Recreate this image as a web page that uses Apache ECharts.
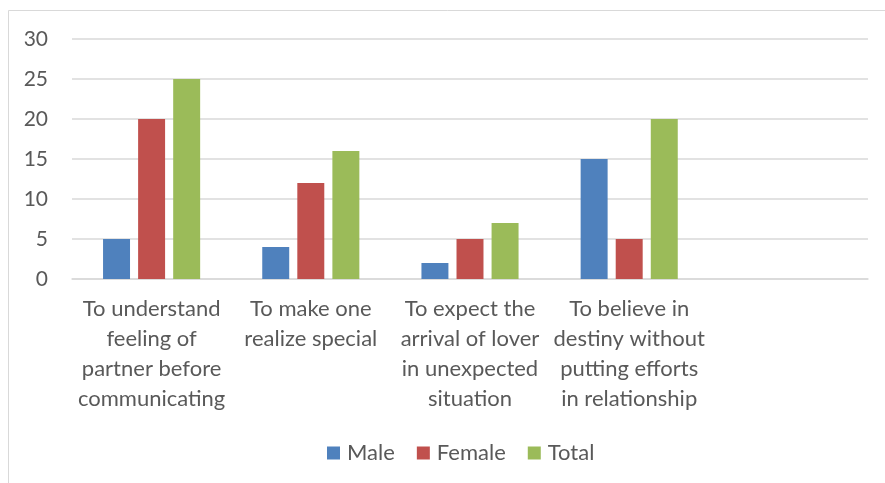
<!DOCTYPE html>
<html>
<head>
<meta charset="utf-8">
<script src="https://cdn.jsdelivr.net/npm/echarts@6/dist/echarts.min.js"></script>
<style>
  html, body { margin: 0; padding: 0; background: #fff; }
  #chart { width: 885px; height: 483px; }
</style>
</head>
<body>
<div id="chart"></div>
<script>
// Reasons given, one per category (last slot left empty)
const categories = [
  'To understand\nfeeling of\npartner before\ncommunicating',
  'To make one\nrealize special',
  'To expect the\narrival of lover\nin unexpected\nsituation',
  'To believe in\ndestiny without\nputting efforts\nin relationship',
  ''
];
const maleValues = [5, 4, 2, 15, null];
const femaleValues = [20, 12, 5, 5, null];
const totalValues = [25, 16, 7, 20, null];
const yTicks = { min: 0, max: 30, interval: 5 };

const FONT = 'Lato';
const TEXT = '#595959';
const chart = echarts.init(document.getElementById('chart'), null, { renderer: 'canvas' });

const barSeries = (name, data, color) => ({
  name, type: 'bar', data,
  barGap: '30%', barCategoryGap: '39%',
  itemStyle: { color }
});

chart.setOption({
  animation: false,
  backgroundColor: '#fff',
  graphic: [{
    type: 'rect',
    shape: { x: 8.5, y: 10.5, width: 1000, height: 1000 },
    style: { fill: 'none', stroke: '#d9d9d9', lineWidth: 1 },
    silent: true
  }],
  grid: { left: 72, right: 17, top: 39, bottom: 204 },
  legend: {
    top: 437,
    left: 322,
    itemWidth: 13, itemHeight: 13, itemGap: 22,
    icon: 'rect',
    textStyle: { fontFamily: FONT, fontSize: 22, color: TEXT, padding: [0, 0, 0, 2] },
    data: ['Male', 'Female', 'Total']
  },
  xAxis: {
    type: 'category',
    data: categories,
    axisLine: { lineStyle: { color: '#d9d9d9', width: 1.5 } },
    axisTick: { show: false },
    axisLabel: {
      interval: 0, margin: 15,
      fontFamily: FONT, fontSize: 22, lineHeight: 30, color: TEXT, align: 'center'
    }
  },
  yAxis: {
    type: 'value',
    min: yTicks.min, max: yTicks.max, interval: yTicks.interval,
    axisLine: { show: false },
    axisTick: { show: false },
    splitLine: { lineStyle: { color: '#d9d9d9', width: 1.5 } },
    axisLabel: { margin: 24, fontFamily: FONT, fontSize: 21, color: TEXT }
  },
  series: [
    barSeries('Male', maleValues, '#4f81bd'),
    barSeries('Female', femaleValues, '#c0504d'),
    barSeries('Total', totalValues, '#9bbb59')
  ]
});
</script>
</body>
</html>
